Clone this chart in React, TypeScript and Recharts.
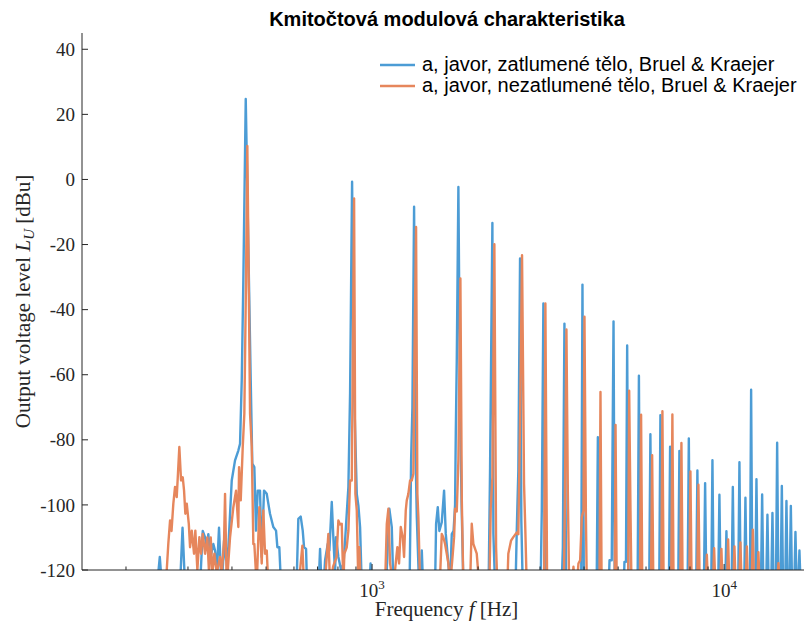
import React from 'react';
import { LineChart, Line, XAxis, YAxis, Legend } from 'recharts';

const titleText = 'Kmitočtová modulová charakteristika';
const seriesNames = [
  'a, javor, zatlumené tělo, Bruel & Kraejer',
  'a, javor, nezatlumené tělo, Bruel & Kraejer',
];
const seriesColors = ['#4C9CD5', '#E6865C'];

const freqTicks = [200, 300, 400, 500, 600, 700, 800, 900, 1000, 2000, 3000, 4000, 5000, 6000, 7000, 8000, 9000, 10000];
const majorFreqTicks = [1000, 10000];
const levelTicks = [-120, -100, -80, -60, -40, -20, 0, 20, 40];
const freqDomain = [150, 18000];
const levelDomain = [-120, 45];

// [frequency Hz, level dBu] - damped body (blue)
const dampedSpectrum: [number, number][] = [
  [245, -125], [249.5, -116], [253, -125],
  [284.8, -125], [289.5, -107], [294.3, -125],
  [324.6, -125], [330.4, -108], [335.5, -110], [339.2, -113], [342.7, -109], [347.7, -116], [354.1, -112], [358.1, -114], [362.8, -120], [367.5, -107], [373.6, -125],
  [377.3, -118], [379.8, -111], [384.8, -117], [390.7, -113], [399.4, -92.5], [408.1, -86.3], [417.0, -83.3], [421.7, -81.2], [426.4, -61.7], [430.9, -31], [437.7, 24.7], [445.2, -20.7], [452.2, -61.7], [456.9, -87.3], [463.0, -88.4], [468.2, -107.9], [473.4, -95.6], [480.5, -95.6], [485.9, -116], [493.3, -95.6], [502.2, -96.6], [507.4, -99.6], [513.0, -102.7], [524.2, -106.8], [533.6, -107.9], [538.3, -113], [545.2, -113], [551.4, -125],
  [610.2, -125], [617.4, -104.3], [627.1, -103.6], [635.4, -107.9], [640.9, -113], [649.4, -113.5], [653.6, -125],
  [704.7, -125], [711.7, -113.5], [718.6, -125], [728.1, -125], [735.4, -117], [748.4, -112], [756.4, -114], [768.3, -99.1], [776.2, -109.9], [785.0, -121], [790.1, -109.9], [802.2, -116], [816.4, -120], [829.9, -118], [838.1, -111], [856.5, -94.5], [866.0, -65.8], [877.5, -0.7], [889.1, -65], [904.8, -96.6], [914.4, -100.2], [924.6, -106.8], [934.8, -125],
  [983.8, -125], [990.2, -118], [996.7, -125],
  [1096, -125], [1119.8, -101.2], [1137.6, -106.8], [1149.5, -125],
  [1278.2, -125], [1290.8, -86.3], [1301.9, -70], [1316.3, -8.4], [1329.4, -85], [1339.9, -103.8], [1360.1, -125], [1373.6, -125], [1384.4, -114], [1396.3, -125],
  [1510, -125], [1520, -105.8], [1536.9, -100.7], [1552.9, -108], [1577.6, -105.3], [1601.5, -95.6], [1619.5, -108.9], [1644, -117], [1665.7, -125], [1684.2, -109], [1704.1, -108], [1721, -100], [1729, -78.1], [1740.2, -55.6], [1758.7, -2.3], [1778.3, -70], [1796, -100], [1817.2, -125],
  [2142.9, -125], [2163.7, -88.4], [2196.7, -13.4], [2211, -108.9], [2235.6, -125],
  [2556, -125], [2576.1, -108], [2603, -89.4], [2632.3, -24.3], [2654.4, -104.8], [2679, -125],
  [3010.9, -125], [3034.6, -101.7], [3066.3, -38.1], [3101.1, -125],
  [3455.6, -125], [3482.7, -113], [3519, -44.3], [3558.1, -125],
  [3926.5, -125], [3959.3, -32.3], [3995.9, -125],
  [4344.6, -125], [4378.8, -79.2], [4410.2, -125],
  [4701.8, -125], [4725.7, -117], [4794.7, -117], [4820.1, -82.2], [4851.3, -43.6], [4889.4, -125],
  [5186.7, -125], [5210.6, -117.5], [5262.5, -117.5], [5303.9, -51], [5349.3, -125],
  [5678.5, -125], [5727.1, -60.3], [5772.1, -125],
  [6126, -125], [6174, -78.3], [6223, -125],
  [6541, -125], [6592, -72.4], [6644, -125],
  [6968, -125], [7023, -82.1], [7078, -125],
  [7406, -125], [7464, -83.4], [7523, -125],
  [7876, -125], [7938, -79.6], [8001, -125],
  [8331, -125], [8396, -89.4], [8462, -125],
  [8762, -125], [8831, -93.3], [8901, -125],
  [9192, -125], [9264, -86.3], [9337, -125],
  [9620, -125], [9696, -96.9], [9773, -125],
  [10072, -125], [10151, -108.1], [10231, -125],
  [10502, -125], [10585, -94.5], [10669, -125],
  [10967, -125], [11053, -86.9], [11140, -125],
  [11405, -125], [11495, -97.8], [11586, -125],
  [11838, -125], [11931, -64.6], [12025, -125],
  [12258, -125], [12354, -92.1], [12452, -125],
  [12723, -125], [12823, -96.8], [12924, -125],
  [13170, -125], [13274, -103], [13379, -125],
  [13609, -125], [13716, -102.5], [13824, -125],
  [14035, -125], [14145, -80.9], [14257, -125],
  [14471, -125], [14585, -94.2], [14700, -125],
  [14914, -125], [15031, -98.8], [15150, -125],
  [15349, -125], [15470, -100.3], [15592, -125],
  [15820, -125], [15944, -108.3], [16070, -125],
  [16236, -125], [16364, -114], [16493, -125],
];

// [frequency Hz, level dBu] - undamped body (orange)
const undampedSpectrum: [number, number][] = [
  [256.6, -125], [261.1, -120], [263.8, -111.9], [266.8, -104.8], [269.4, -108], [272.6, -99.6], [275.6, -94.5], [278.7, -97.6], [281.1, -90], [283.5, -82.2], [286.7, -92.5], [289.9, -91.5], [292.4, -95.6], [294.9, -102.7], [297.6, -99.6], [301.6, -105.8], [304.1, -113], [307.5, -107.9], [312.1, -115], [314.8, -107.9], [319.0, -120], [323.2, -109.9], [326.8, -115], [330.4, -108.9], [335.5, -115], [340.5, -110], [344.3, -121], [348.2, -110], [351.8, -121], [356.5, -115], [362.1, -121], [370.0, -116], [374.1, -121], [379.8, -111], [382.3, -96.6], [386.5, -125], [395.0, -110], [403.6, -100.7], [410.8, -95.6], [417.0, -106.8], [419.0, -88.4], [423.6, -98.6], [429.2, -82.2], [433.7, -72], [438.5, -31], [442.3, 10.3], [447.3, -41.2], [450.2, -72], [455.2, -82], [460.0, -112], [463.0, -112], [470.3, -125], [478.4, -100.7], [485.9, -118], [491.1, -101.7], [496.6, -115], [502.2, -114], [507.4, -125],
  [616.3, -125], [624.5, -120], [633.9, -112.5], [640.9, -125],
  [732.0, -125], [740.2, -119], [751.5, -108.9], [759.8, -125], [774.9, -119], [792.7, -116], [802.2, -104.8], [811.1, -106], [820.1, -105.8], [828.9, -125], [834.2, -115], [847.4, -113], [856.5, -108], [866.0, -92.5], [875.7, -92.5], [881.5, -55.6], [889.1, -5.8], [896.7, -96.6], [904.8, -101.7], [914.4, -125], [920.3, -113], [928.8, -125],
  [1088.8, -125], [1101.1, -105.8], [1112.6, -101.2], [1124.9, -118], [1149.5, -125], [1180.0, -113], [1193.1, -118], [1206.4, -106.8], [1222.3, -110], [1232.8, -116], [1246.5, -101.7], [1254.8, -98.6], [1267.9, -96.6], [1282.3, -92.5], [1296.6, -92.5], [1310.2, -90.4], [1319.0, -55], [1333.5, -14.6], [1345.0, -96.6], [1353.9, -103.8], [1369.2, -125],
  [1543.3, -125], [1560.3, -122], [1577.6, -108.9], [1594.4, -110], [1612.0, -112], [1630.0, -115], [1647.4, -118], [1665.7, -125], [1695.5, -115], [1710.0, -109.9], [1721.0, -101.2], [1740.2, -102], [1758.7, -86.3], [1782.0, -30.4], [1798.5, -98.6], [1817.2, -125],
  [1898.2, -125], [1919.3, -105.8], [1939.7, -112], [1983.0, -115], [2017.0, -125],
  [2153.8, -125], [2173.7, -100.7], [2196.7, -91.5], [2225.3, -19.9], [2250.5, -113], [2269.8, -125],
  [2422.1, -125], [2437.8, -115], [2481.4, -111], [2518.8, -109.9], [2576.1, -108.5], [2603.0, -109], [2632.3, -75], [2666.7, -23.3], [2701.9, -93.5], [2725.0, -107.9], [2750.2, -125],
  [3080.5, -125], [3106.8, -38.1], [3141.9, -125],
  [3505.2, -125], [3527.9, -100.7], [3565.4, -46.1], [3598.3, -96.6], [3629.1, -125],
  [3700.8, -125], [3732.5, -119], [3767.0, -125],
  [3815.9, -125], [3856.5, -118], [3899.4, -117], [3942.7, -103.8], [3985.8, -101.7], [4011.6, -42.2], [4048.7, -102.7], [4073.8, -125],
  [4424.6, -125], [4454.3, -65.3], [4487.5, -125],
  [4889.4, -125], [4915.2, -75.4], [4953.8, -125],
  [5338.2, -125], [5374.0, -64.9], [5420.0, -101.7], [5455.2, -125],
  [5764.1, -125], [5809.4, -72.3], [5855.0, -125],
  [6196, -125], [6245, -84.7], [6294, -125],
  [6627, -125], [6679, -71.2], [6732, -125],
  [7073, -125], [7129, -72.2], [7185, -125],
  [7504, -125], [7563, -81], [7623, -125],
  [7959, -125], [8022, -89.7], [8085, -125],
  [8387, -125], [8453, -93.8], [8520, -125],
  [8861, -125], [8931, -115.3], [9001, -125],
  [9294, -125], [9367, -113.3], [9441, -125],
  [9747, -125], [9824, -113.5], [9901, -125],
  [10186, -125], [10266, -110.6], [10347, -125],
  [10614, -125], [10698, -112.8], [10782, -125],
  [11038, -125], [11125, -111.5], [11213, -125],
  [11510, -125], [11601, -112.8], [11693, -125],
  [11969, -125], [12063, -107.6], [12158, -125],
  [12416, -125], [12514, -114.5], [12613, -125],
  [14155, -125], [14266, -117.9], [14378, -125],
];

const dampedData = dampedSpectrum.map(([f, level]) => ({ f, level }));
const undampedData = undampedSpectrum.map(([f, level]) => ({ f, level }));

const SERIF = '"Liberation Serif", "DejaVu Serif", serif';
const SANS = '"Liberation Sans", Arial, Helvetica, sans-serif';
const AXIS = '#262626';

const FreqTick = (props: any) => {
  const { x, y, payload } = props;
  const major = majorFreqTicks.includes(payload.value);
  const exp = Math.round(Math.log10(payload.value));
  return (
    <g>
      <line x1={x} x2={x} y1={y} y2={y - (major ? 6 : 3.5)} stroke={AXIS} strokeWidth={1} />
      {major && (
        <text x={x} y={y + 27} textAnchor="middle" fontFamily={SERIF} fontSize={19} fill={AXIS}>
          10<tspan dy={-8} fontSize={13}>{exp}</tspan>
        </text>
      )}
    </g>
  );
};

const LevelTick = (props: any) => {
  const { x, y, payload } = props;
  return (
    <g>
      <line x1={x} x2={x + 6} y1={y} y2={y} stroke={AXIS} strokeWidth={1} />
      <text x={x - 7} y={y} dy="0.35em" textAnchor="end" fontFamily={SERIF} fontSize={19} fill={AXIS}>
        {payload.value}
      </text>
    </g>
  );
};

const XLabel = (props: any) => {
  const vb = props.viewBox || { x: 82, y: 570, width: 732, height: 58 };
  const cx = vb.x + vb.width / 2 - 1.5;
  return (
    <text x={cx} y={vb.y + 46} textAnchor="middle" fontFamily={SERIF} fontSize={21} fill={AXIS}>
      Frequency <tspan fontStyle="italic">f</tspan> [Hz]
    </text>
  );
};

const YLabel = (props: any) => {
  const vb = props.viewBox || { x: 0, y: 33, width: 82, height: 537 };
  const cx = vb.x + 30;
  const cy = vb.y + vb.height / 2;
  return (
    <text x={cx} y={cy} transform={`rotate(-90, ${cx}, ${cy})`} textAnchor="middle" fontFamily={SERIF} fontSize={21} fill={AXIS}>
      Output voltage level <tspan fontStyle="italic">L</tspan>
      <tspan fontStyle="italic" fontSize={15} dy={4}>U</tspan>
      <tspan dy={-4}> [dBu]</tspan>
    </text>
  );
};

const renderLegend = (props: any) => {
  const payload = [...(props.payload || [])].sort(
    (a: any, b: any) => seriesNames.indexOf(a.value) - seriesNames.indexOf(b.value)
  );
  return (
    <div style={{ fontFamily: SANS, fontSize: 20, color: '#000', lineHeight: '21px' }}>
      {payload.map((entry: any, i: number) => (
        <div key={i} style={{ display: 'flex', alignItems: 'center', height: 21, whiteSpace: 'nowrap' }}>
          <svg width={35} height={4} style={{ marginRight: 7, display: 'block' }}>
            <line x1={0} x2={35} y1={2} y2={2} stroke={entry.color} strokeWidth={2.4} />
          </svg>
          <span>{entry.value}</span>
        </div>
      ))}
    </div>
  );
};

export default function App() {
  return (
    <div style={{ position: 'absolute', left: 0, top: 0, width: 804, height: 628, overflow: 'hidden', background: '#fff' }}>
      <LineChart width={815} height={628} margin={{ top: 33, right: 1, bottom: 0, left: 0 }}>
        <XAxis
          dataKey="f"
          type="number"
          scale="log"
          domain={freqDomain}
          allowDataOverflow
          ticks={freqTicks}
          interval={0}
          tick={(p: any) => <FreqTick {...p} />}
          tickLine={false}
          tickSize={0}
          tickMargin={0}
          height={58}
          axisLine={{ stroke: AXIS, strokeWidth: 1 }}
          label={(p: any) => <XLabel {...p} />}
        />
        <YAxis
          type="number"
          domain={levelDomain}
          allowDataOverflow
          ticks={levelTicks}
          interval={0}
          tick={(p: any) => <LevelTick {...p} />}
          tickLine={false}
          tickSize={0}
          tickMargin={0}
          width={82}
          axisLine={{ stroke: AXIS, strokeWidth: 1 }}
          label={(p: any) => <YLabel {...p} />}
        />
        <Line
          data={dampedData}
          dataKey="level"
          name={seriesNames[0]}
          type="linear"
          stroke={seriesColors[0]}
          strokeWidth={2.4}
          strokeLinejoin="round"
          dot={false}
          activeDot={false}
          isAnimationActive={false}
        />
        <Line
          data={undampedData}
          dataKey="level"
          name={seriesNames[1]}
          type="linear"
          stroke={seriesColors[1]}
          strokeWidth={2.4}
          strokeLinejoin="round"
          dot={false}
          activeDot={false}
          isAnimationActive={false}
        />
        <Legend
          layout="vertical"
          align="center"
          verticalAlign="middle"
          content={renderLegend}
          itemSorter={null as any}
          wrapperStyle={{ left: 380, top: 54, width: 'auto' }}
        />
      </LineChart>
      <div
        style={{
          position: 'absolute',
          left: 147,
          top: 7,
          width: 600,
          textAlign: 'center',
          fontFamily: SANS,
          fontWeight: 'bold',
          fontSize: 20,
          lineHeight: '24px',
          color: '#000',
        }}
      >
        {titleText}
      </div>
    </div>
  );
}
